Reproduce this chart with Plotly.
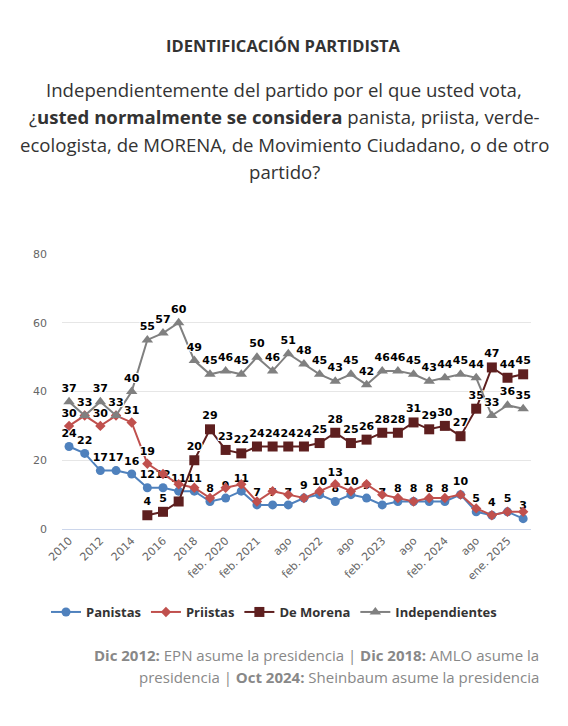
import plotly.graph_objects as go

periods = ["2010", "2011", "2012", "2013", "2014", "2015", "2016", "2017", "2018", "2019",
           "feb. 2020", "ago. 2020", "feb. 2021", "may. 2021", "ago. 2021", "nov. 2021",
           "feb. 2022", "may. 2022", "ago. 2022", "nov. 2022", "feb. 2023", "may. 2023",
           "ago. 2023", "nov. 2023", "feb. 2024", "may. 2024", "ago. 2024", "oct. 2024",
           "ene. 2025", "mar. 2025"]
tick_labels = ["2010", "2012", "2014", "2016", "2018", "feb. 2020", "feb. 2021", "ago",
               "feb. 2022", "ago", "feb. 2023", "ago", "feb. 2024", "ago", "ene. 2025"]

panistas = [24, 22, 17, 17, 16, 12, 12, 11, 11, 8, 9, 11, 7, 7, 7, 9, 10, 8, 10, 9,
            7, 8, 8, 8, 8, 10, 5, 4, 5, 3]
priistas = [30, 33, 30, 33, 31, 19, 16, 13, 12, 9, 12, 13, 8, 11, 10, 9, 11, 13, 11, 13,
            10, 9, 8, 9, 9, 10, 6, 4, 5, 5]
morena = [None, None, None, None, None, 4, 5, 8, 20, 29, 23, 22, 24, 24, 24, 24, 25, 28, 25, 26,
          28, 28, 31, 29, 30, 27, 35, 47, 44, 45]
independientes = [37, 33, 37, 33, 40, 55, 57, 60, 49, 45, 46, 45, 50, 46, 51, 48, 45, 43, 45, 42,
                  46, 46, 45, 43, 44, 45, 44, 33, 36, 35]

# indices whose data labels are visible (others hidden as overlapping in the original)
pri_label_idx = [0, 2, 4, 5, 17]
morena_hidden_idx = [7]


def labels(vals, show=None, hide=()):
    out = []
    for i, v in enumerate(vals):
        if v is None or i in hide or (show is not None and i not in show):
            out.append("")
        else:
            out.append(str(v))
    return out


outline = "1px 1px 0 #fff, -1px -1px 0 #fff, 1px -1px 0 #fff, -1px 1px 0 #fff, 0 1px 0 #fff, 0 -1px 0 #fff, 1px 0 0 #fff, -1px 0 0 #fff"
lbl_font = dict(family="DejaVu Sans", size=11, color="#000", weight="bold", shadow=outline)

series = [
    ("Panistas", panistas, "#4f81bd", "circle", 9, labels(panistas)),
    ("Priistas", priistas, "#c0504d", "diamond", 8, labels(priistas, show=pri_label_idx)),
    ("De Morena", morena, "#5e1f1f", "square", 10, labels(morena, hide=morena_hidden_idx)),
    ("Independientes", independientes, "#808080", "triangle-up", 10, labels(independientes)),
]

fig = go.Figure()
for name, vals, color, sym, size, txt in series:
    fig.add_trace(go.Scatter(
        x=periods, y=vals, name=name, mode="lines+markers+text",
        line=dict(color=color, width=2),
        marker=dict(color=color, symbol=sym, size=size),
        text=txt, textposition="top center", textfont=lbl_font,
        cliponaxis=False, connectgaps=False,
    ))

L, R, T, B = 62, 37, 254, 197
H = 726 - T - B
W = 568 - L - R


def py(p):
    return (726 - B - p) / H


def px(p):
    return (p - L) / W


ann = []
ann.append(dict(text="<b>IDENTIFICACIÓN PARTIDISTA</b>", x=px(283), y=py(45),
                font=dict(family="Open Sans", size=16.5, color="#333")))
sub = ["Independientemente del partido por el que usted vota,",
       "¿<b>usted normalmente se considera</b> panista, priista, verde-",
       "ecologista, de MORENA, de Movimiento Ciudadano, o de otro",
       "partido?"]
for s, yy in zip(sub, [90, 117, 144, 171]):
    ann.append(dict(text=s, x=px(284), y=py(yy), font=dict(family="Open Sans", size=18.6, color="#333")))
foot = ["<b>Dic 2012:</b> EPN asume la presidencia | <b>Dic 2018:</b> AMLO asume la",
        "presidencia | <b>Oct 2024:</b> Sheinbaum asume la presidencia"]
for s, yy in zip(foot, [655, 677]):
    ann.append(dict(text=s, x=px(541), y=py(yy), xanchor="right",
                    font=dict(family="Open Sans", size=15, color="#888")))
for a in ann:
    a.update(xref="paper", yref="paper", showarrow=False, yanchor="middle",
             xanchor=a.get("xanchor", "center"))

fig.update_layout(
    width=568, height=726, margin=dict(l=L, r=R, t=T, b=B, autoexpand=False),
    paper_bgcolor="white", plot_bgcolor="white",
    showlegend=True,
    legend=dict(orientation="h", x=px(46), xanchor="left",
                y=py(612), yanchor="middle",
                font=dict(family="Open Sans", size=13, color="#333", weight="bold"),
                itemwidth=30, tracegroupgap=0),
    annotations=ann,
    xaxis=dict(type="category", range=[-0.45, 29.5], tickvals=periods[::2], ticktext=tick_labels,
               tickangle=-45, showgrid=False, showline=True, linecolor="#ccd6eb", linewidth=1,
               ticks="", tickfont=dict(family="DejaVu Sans", size=11, color="#666"), fixedrange=True),
    yaxis=dict(range=[0, 80], tickvals=[0, 20, 40, 60, 80], showgrid=True, gridcolor="#e6e6e6",
               zeroline=False, ticks="", ticklabelstandoff=14,
               tickfont=dict(family="DejaVu Sans", size=11, color="#666"), fixedrange=True),
)

fig.write_html("out.html")
